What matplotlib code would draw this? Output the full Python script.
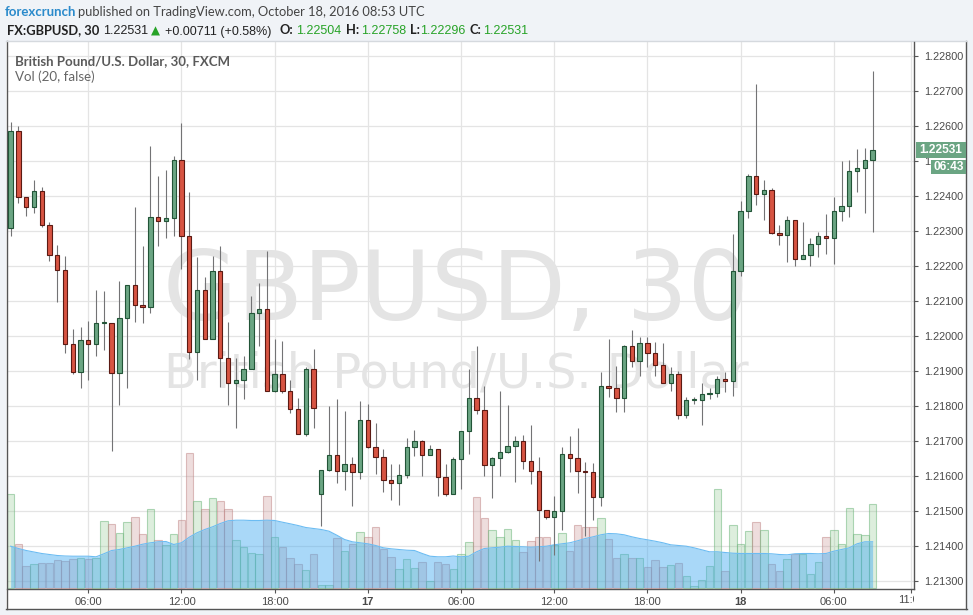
import matplotlib
matplotlib.use("Agg")
import matplotlib.pyplot as plt
from matplotlib.patches import Rectangle
from matplotlib.lines import Line2D
from matplotlib.transforms import blended_transform_factory, Bbox, TransformedBbox
import numpy as np

plt.rcParams['font.family'] = ['Liberation Sans', 'DejaVu Sans']

# GBPUSD 30 min candles, Oct 14 - Oct 18 2016
opens = [
    1.22308, 1.22585, 1.22396, 1.22368, 1.22413, 1.22316, 1.22230, 1.22188, 1.21976, 1.21896,
    1.21988, 1.21976, 1.22036, 1.22036, 1.21893, 1.22050, 1.22145, 1.22088, 1.22082, 1.22339,
    1.22328, 1.22336, 1.22502, 1.22285, 1.21953, 1.22130, 1.21990, 1.22185, 1.21936, 1.21865,
    1.21873, 1.21905, 1.22065, 1.22076, 1.21842, 1.21890, 1.21842, 1.21790, 1.21719, 1.21905,
    1.21548, 1.21616, 1.21659, 1.21613, 1.21633, 1.21610, 1.21759, 1.21682, 1.21653, 1.21588,
    1.21579, 1.21602, 1.21682, 1.21699, 1.21659, 1.21676, 1.21596, 1.21548, 1.21648, 1.21728,
    1.21822, 1.21788, 1.21630, 1.21650, 1.21668, 1.21685, 1.21699, 1.21642, 1.21613, 1.21502,
    1.21482, 1.21499, 1.21662, 1.21650, 1.21613, 1.21610, 1.21539, 1.21856, 1.21852, 1.21823,
    1.21970, 1.21929, 1.21981, 1.21950, 1.21918, 1.21867, 1.21890, 1.21775, 1.21818, 1.21818,
    1.21835, 1.21838, 1.21878, 1.21871, 1.22187, 1.22358, 1.22458, 1.22406, 1.22418, 1.22294,
    1.22289, 1.22332, 1.22220, 1.22231, 1.22264, 1.22287, 1.22281, 1.22358, 1.22370, 1.22470,
    1.22479, 1.22504]
highs = [
    1.22611, 1.22600, 1.22396, 1.22446, 1.22425, 1.22325, 1.22260, 1.22229, 1.22020, 1.22026,
    1.22043, 1.22131, 1.22129, 1.22036, 1.22157, 1.22147, 1.22369, 1.22258, 1.22543, 1.22457,
    1.22474, 1.22513, 1.22609, 1.22411, 1.22226, 1.22168, 1.22229, 1.22257, 1.22040, 1.21937,
    1.21943, 1.22114, 1.22151, 1.22243, 1.21991, 1.21986, 1.21874, 1.21823, 1.21912, 1.21963,
    1.21616, 1.21800, 1.21820, 1.21786, 1.21653, 1.21814, 1.21806, 1.21751, 1.21676, 1.21633,
    1.21633, 1.21709, 1.21731, 1.21702, 1.21688, 1.21676, 1.21633, 1.21653, 1.21728, 1.21906,
    1.21971, 1.21857, 1.21653, 1.21843, 1.21803, 1.21713, 1.21716, 1.21745, 1.21653, 1.21502,
    1.21542, 1.21684, 1.21714, 1.21736, 1.21639, 1.21636, 1.21897, 1.21990, 1.21914, 1.21975,
    1.22016, 1.21997, 1.21997, 1.21984, 1.21981, 1.21910, 1.21900, 1.21826, 1.21826, 1.21865,
    1.21850, 1.21886, 1.21898, 1.22290, 1.22385, 1.22464, 1.22719, 1.22447, 1.22422, 1.22316,
    1.22344, 1.22332, 1.22326, 1.22279, 1.22296, 1.22348, 1.22396, 1.22499, 1.22502, 1.22533,
    1.22538, 1.22758]
lows = [
    1.22287, 1.22379, 1.22344, 1.22352, 1.22310, 1.22215, 1.22098, 1.21952, 1.21890, 1.21852,
    1.21875, 1.21944, 1.21961, 1.21672, 1.21804, 1.21852, 1.22041, 1.22038, 1.22065, 1.22258,
    1.22281, 1.22285, 1.22192, 1.21935, 1.21875, 1.21990, 1.21990, 1.21855, 1.21804, 1.21738,
    1.21821, 1.21905, 1.21970, 1.21842, 1.21839, 1.21836, 1.21781, 1.21719, 1.21714, 1.21736,
    1.21458, 1.21613, 1.21581, 1.21561, 1.21515, 1.21590, 1.21679, 1.21607, 1.21555, 1.21532,
    1.21518, 1.21593, 1.21656, 1.21601, 1.21659, 1.21544, 1.21544, 1.21548, 1.21564, 1.21664,
    1.21776, 1.21599, 1.21538, 1.21599, 1.21665, 1.21584, 1.21619, 1.21576, 1.21358, 1.21476,
    1.21373, 1.21445, 1.21612, 1.21552, 1.21429, 1.21473, 1.21513, 1.21826, 1.21783, 1.21783,
    1.21911, 1.21886, 1.21911, 1.21886, 1.21867, 1.21843, 1.21764, 1.21767, 1.21805, 1.21747,
    1.21821, 1.21826, 1.21841, 1.21829, 1.22171, 1.22337, 1.22374, 1.22331, 1.22291, 1.22260,
    1.22210, 1.22200, 1.22220, 1.22200, 1.22226, 1.22235, 1.22206, 1.22329, 1.22341, 1.22411,
    1.22351, 1.22296]
closes = [
    1.22585, 1.22396, 1.22368, 1.22413, 1.22316, 1.22230, 1.22188, 1.21976, 1.21896, 1.21988,
    1.21976, 1.22036, 1.22038, 1.21893, 1.22050, 1.22145, 1.22088, 1.22082, 1.22339, 1.22328,
    1.22336, 1.22502, 1.22285, 1.21953, 1.22130, 1.21990, 1.22185, 1.21936, 1.21865, 1.21873,
    1.21905, 1.22065, 1.22076, 1.21842, 1.21890, 1.21842, 1.21790, 1.21719, 1.21905, 1.21793,
    1.21616, 1.21659, 1.21613, 1.21633, 1.21610, 1.21759, 1.21682, 1.21653, 1.21588, 1.21579,
    1.21602, 1.21682, 1.21699, 1.21659, 1.21676, 1.21596, 1.21548, 1.21648, 1.21728, 1.21822,
    1.21788, 1.21630, 1.21650, 1.21668, 1.21685, 1.21699, 1.21642, 1.21613, 1.21502, 1.21482,
    1.21499, 1.21662, 1.21650, 1.21613, 1.21612, 1.21539, 1.21856, 1.21852, 1.21823, 1.21970,
    1.21929, 1.21981, 1.21950, 1.21918, 1.21867, 1.21890, 1.21775, 1.21818, 1.21819, 1.21835,
    1.21838, 1.21878, 1.21871, 1.22187, 1.22358, 1.22458, 1.22406, 1.22418, 1.22294, 1.22289,
    1.22332, 1.22220, 1.22231, 1.22264, 1.22287, 1.22281, 1.22358, 1.22370, 1.22470, 1.22479,
    1.22502, 1.22531]
volumes = [
    94, 44, 22, 24, 25, 25, 28, 27, 29, 30,
    29, 30, 67, 64, 55, 66, 71, 54, 79, 48,
    43, 54, 68, 135, 87, 79, 90, 87, 79, 48,
    41, 35, 34, 92, 51, 41, 30, 24, 18, 34,
    3, 3, 50, 37, 44, 56, 51, 61, 39, 31,
    19, 29, 20, 26, 7, 26, 24, 19, 34, 46,
    91, 70, 58, 51, 59, 48, 36, 47, 51, 51,
    43, 55, 37, 63, 61, 61, 70, 49, 30, 34,
    30, 30, 21, 28, 21, 23, 25, 12, 2, 8,
    22, 99, 17, 63, 44, 57, 66, 58, 24, 17,
    29, 34, 34, 14, 26, 51, 58, 44, 80, 54,
    53, 84]
vol_ma = [
    41.3, 39.0, 37.0, 35.5, 34.0, 33.0, 32.0, 31.5, 31.3, 31.3,
    31.3, 30.7, 33.7, 37.0, 38.0, 39.7, 41.3, 43.3, 44.7, 45.7,
    46.0, 43.0, 44.7, 50.3, 54.7, 58.0, 60.7, 64.0, 66.7, 67.3,
    67.3, 67.0, 67.0, 67.3, 67.0, 65.3, 63.7, 62.0, 60.0, 59.0,
    58.0, 56.3, 52.3, 48.0, 45.7, 44.7, 43.7, 42.0, 39.7, 38.7,
    38.0, 37.3, 37.0, 34.0, 31.3, 30.7, 30.7, 31.5, 30.7, 31.3,
    35.7, 39.0, 39.7, 40.3, 41.3, 41.0, 40.7, 40.3, 40.7, 41.3,
    42.7, 43.7, 44.7, 46.7, 49.0, 50.7, 52.7, 54.0, 53.7, 52.7,
    50.7, 49.0, 47.7, 46.3, 44.7, 42.7, 42.0, 41.3, 39.7, 37.7,
    35.7, 35.7, 35.0, 34.3, 34.0, 34.0, 34.0, 34.0, 33.7, 33.0,
    32.7, 33.7, 34.0, 34.0, 33.7, 34.0, 36.3, 38.0, 39.7, 43.7,
    45.7, 45.7]

price_ticks = [1.213, 1.214, 1.215, 1.216, 1.217, 1.218, 1.219, 1.220,
               1.221, 1.222, 1.223, 1.224, 1.225, 1.226, 1.227, 1.228]
time_ticks = [10, 22, 34, 46, 58, 70, 82, 94, 106, 116]
time_labels = ['06:00', '12:00', '18:00', '17', '06:00', '12:00', '18:00', '18', '06:00', '']
countdown = '06:43'

up_fill, up_edge = '#6ba583', '#225437'
dn_fill, dn_edge = '#d75442', '#5b1a13'

W, H = 973, 615
fig = plt.figure(figsize=(W / 100, H / 100), dpi=100, facecolor='#f0f3f7')


def fx(px):
    return px / W


def fy(py):
    return 1 - py / H


# white chart box with its border
fig.add_artist(Rectangle((fx(6), fy(608.5)), fx(966) - fx(6), fy(41) - fy(608.5),
                         transform=fig.transFigure, fc='white', ec='none', zorder=0))
for xs, ys, col in [([6.5, 6.5], [41, 608.5], '#555555'),
                    ([966, 966], [41, 608.5], '#555555'),
                    ([6, 966.5], [608.5, 608.5], '#555555'),
                    ([6, 966], [41, 41], '#d5d9de')]:
    fig.add_artist(Line2D([fx(v) for v in xs], [fy(v) for v in ys],
                          transform=fig.transFigure, color=col, lw=1))

rect = [fx(7), fy(589), fx(914) - fx(7), fy(42) - fy(589)]
x = np.arange(len(opens))
o = np.array(opens)
c = np.array(closes)
up = c >= o

# bottom layer: grid + watermark
grid_ax = fig.add_axes(rect, zorder=0)
grid_ax.patch.set_visible(False)
grid_ax.set_xlim(-0.47, 116.33)
grid_ax.set_ylim(1.21277, 1.22840)
grid_ax.grid(True, color='#e4e4e4', lw=0.9)
grid_ax.tick_params(length=0, labelbottom=False, labelleft=False)
for s in grid_ax.spines.values():
    s.set_visible(False)
grid_ax.text(0.495, 0.4918, 'GBPUSD, 30', transform=grid_ax.transAxes, ha='center',
             va='baseline', fontsize=69, color='#e4e4e4', family='DejaVu Sans', zorder=0.3)
grid_ax.text(0.495, 0.3675, 'British Pound/U.S. Dollar', transform=grid_ax.transAxes,
             ha='center', va='baseline', fontsize=34.5, color='#e4e4e4',
             family='DejaVu Sans', zorder=0.3)

# middle layer: volume + its 20 moving average
vol = fig.add_axes(rect, sharex=grid_ax, zorder=1)
vol.patch.set_visible(False)
vol.set_ylim(-1.5, 545.5)
vol.axis('off')
vface = [(0.56, 0.79, 0.56, 0.3) if u else (0.78, 0.56, 0.56, 0.3) for u in up]
vedge = [(0.45, 0.72, 0.5, 0.55) if u else (0.75, 0.52, 0.52, 0.5) for u in up]
vol.bar(x, volumes, width=0.96, color=vface, edgecolor=vedge, linewidth=0.8, zorder=2)
vol.fill_between(x, 0, vol_ma, color='#42aaf0', alpha=0.45, lw=0, zorder=3)
vol.plot(x, vol_ma, color='#6cbcf2', lw=0.8, zorder=3)

# top layer: candles and axes
ax = fig.add_axes(rect, sharex=grid_ax, sharey=grid_ax, zorder=2)
ax.patch.set_visible(False)
ax.vlines(x, lows, highs, color='#737375', lw=0.8, zorder=2)
ax.bar(x, np.maximum(np.abs(c - o), 0.00003), width=0.56, bottom=np.minimum(o, c),
       color=[up_fill if u else dn_fill for u in up],
       edgecolor=[up_edge if u else dn_edge for u in up], linewidth=0.8, zorder=3)

ax.yaxis.tick_right()
ax.set_yticks(price_ticks)
ax.set_yticklabels([f'{t:.5f}' for t in price_ticks])
ax.set_xticks(time_ticks)
ax.set_xticklabels(time_labels)
for lab in ax.get_xticklabels():
    if lab.get_text() in ('17', '18'):
        lab.set_fontweight('bold')
ax.tick_params(axis='y', direction='out', length=3, width=0.8, color='#555555', pad=4,
               labelsize=7.8, labelcolor='#4a4a4a')
ax.tick_params(axis='x', direction='out', length=3, width=0.8, color='#555555', pad=3,
               labelsize=8, labelcolor='#4a4a4a')
for side in ('top', 'left'):
    ax.spines[side].set_visible(False)
for side in ('right', 'bottom'):
    ax.spines[side].set_color('#555555')
    ax.spines[side].set_linewidth(1)

# the price tag hides most of the 1.22500 label: only its start peeks out
for lab in ax.get_yticklabels():
    if lab.get_text() == '1.22500':
        lab.set_clip_box(TransformedBbox(Bbox.from_extents(0, 0, fx(930.5), 1), fig.transFigure))
        lab.set_clip_on(True)

# the last time label is cut by the price scale
t = ax.text(116, -0.0201, '11:00', transform=blended_transform_factory(ax.transData, ax.transAxes),
            ha='center', va='center', fontsize=8, color='#4a4a4a')
t.set_clip_box(TransformedBbox(Bbox.from_extents(0, 0, fx(914), 1), fig.transFigure))
t.set_clip_on(True)

# current price tag
ppx = (1.22840 - 1.21277) / 547
last = closes[-1]
trans = blended_transform_factory(ax.transAxes, ax.transData)
ax.add_patch(Rectangle((1.0022, last - 8 * ppx), 0.0551, 16 * ppx, transform=trans,
                       fc=up_fill, ec='none', clip_on=False, zorder=10))
ax.text(1.0298, last, f'{last:.5f}', transform=trans, ha='center', va='center',
        color='white', fontsize=8.6, fontweight='bold', zorder=11, clip_on=False)
ax.add_patch(Rectangle((1.0187, last - 24 * ppx), 0.0386, 14.3 * ppx, transform=trans,
                       fc=up_fill, ec='none', clip_on=False, zorder=10))
ax.text(1.0380, last - 16.9 * ppx, countdown, transform=trans, ha='center', va='center',
        color='white', fontsize=8.6, fontweight='bold', zorder=11, clip_on=False)

# legend lines inside the pane
ax.text(0.00915, 0.9574, 'British Pound/U.S. Dollar, 30, FXCM', transform=ax.transAxes,
        fontsize=9.5, fontweight='bold', color='#5a5a5a', family='Lato', va='baseline')
ax.text(0.00915, 0.9287, 'Vol (20, false)', transform=ax.transAxes,
        fontsize=9.6, color='#666666', family='Lato', va='baseline')

# header
fig.text(fx(5), fy(16), 'forexcrunch', color='#2a8acb', fontsize=9.5, fontweight='bold',
         family='Lato', va='baseline')
fig.text(fx(78), fy(16), 'published on TradingView.com, October 18, 2016 08:53 UTC',
         color='#444444', fontsize=9.3, family='Lato', va='baseline')
green = '#27a327'
labels_hdr = [
    (7, 'FX:GBPUSD, 30', '#222222'),
    (280, 'O:', '#222222'),
    (346, 'H:', '#222222'),
    (410, 'L:', '#222222'),
    (470, 'C:', '#222222'),
]
numbers_hdr = [
    (103, f'{last:.5f}', '#222222'),
    (165, '+0.00711 (+0.58%)', '#222222'),
    (296, f'{opens[-1]:.5f}', green),
    (361, f'{highs[-1]:.5f}', green),
    (420, f'{lows[-1]:.5f}', green),
    (483, f'{closes[-1]:.5f}', green),
]
for px, txt, col in labels_hdr:
    fig.text(fx(px), fy(34.5), txt, color=col, fontsize=9.3, fontweight='bold',
             family='Lato', va='baseline')
for px, txt, col in numbers_hdr:
    fig.text(fx(px), fy(34.5), txt, color=col, fontsize=9, family='Liberation Sans',
             va='baseline')
fig.text(fx(151), fy(34.5), '\u25b2', color=green, fontsize=8.5, family='DejaVu Sans',
         va='baseline')

fig.savefig('out.png', dpi=100, facecolor=fig.get_facecolor())
